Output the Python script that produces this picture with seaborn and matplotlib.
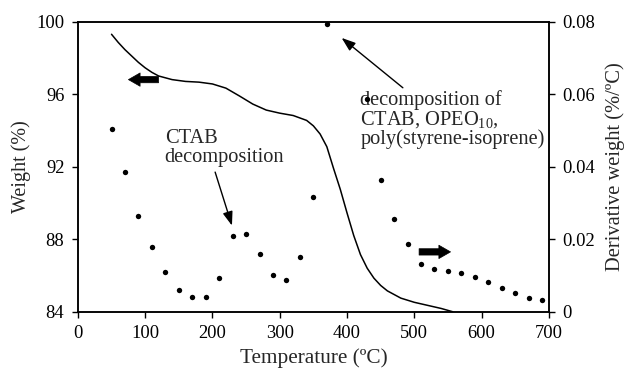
import matplotlib
matplotlib.use("Agg")
import matplotlib.pyplot as plt
import seaborn as sns
import pandas as pd

# Weight (TGA) curve
temp_w = [50, 60, 70, 80, 90, 100, 110, 120, 140, 160, 180, 200, 220, 240, 260, 280,
          300, 320, 340, 350, 360, 370, 380, 390, 400, 410, 420, 430, 440, 450, 460,
          480, 500, 520, 540, 557]
weight = [99.3, 98.85, 98.45, 98.1, 97.75, 97.45, 97.2, 97.0, 96.8, 96.7, 96.66, 96.56,
          96.33, 95.9, 95.45, 95.12, 94.95, 94.82, 94.55, 94.25, 93.8, 93.1, 91.9, 90.75,
          89.45, 88.2, 87.15, 86.4, 85.85, 85.45, 85.15, 84.75, 84.52, 84.35, 84.18, 84.0]

# Derivative weight points
temp_d = [50, 70, 90, 110, 130, 150, 170, 190, 210, 230, 250, 270, 290, 310, 330, 350,
          370, 430, 450, 470, 490, 510, 530, 550, 570, 590, 610, 630, 650, 670, 690]
deriv = [0.0505, 0.0386, 0.0264, 0.0178, 0.0109, 0.0060, 0.0042, 0.0042, 0.0094, 0.0209,
         0.0213, 0.0158, 0.0100, 0.0087, 0.0151, 0.0315, 0.0792, 0.0586, 0.0363, 0.0257,
         0.0187, 0.0132, 0.0117, 0.0113, 0.0106, 0.0097, 0.0081, 0.0065, 0.0051, 0.0039,
         0.0031]

x_ticks = [0, 100, 200, 300, 400, 500, 600, 700]
yl_ticks = [84, 88, 92, 96, 100]
yr_ticks = [0, 0.02, 0.04, 0.06, 0.08]
yr_labels = ["0", "0.02", "0.04", "0.06", "0.08"]

sns.set_theme(style="ticks")
plt.rcParams["font.family"] = ["Liberation Serif", "DejaVu Serif"]
plt.rcParams["mathtext.fontset"] = "custom"
plt.rcParams["mathtext.rm"] = "Liberation Serif"

fig = plt.figure(figsize=(6.28, 3.72), dpi=100)
ax = fig.add_axes([0.124, 0.162, 0.75, 0.78])
ax2 = ax.twinx()

dfw = pd.DataFrame({"T": temp_w, "W": weight})
dfd = pd.DataFrame({"T": temp_d, "D": deriv})

sns.lineplot(data=dfw, x="T", y="W", ax=ax, color="black", linewidth=1.1)
sns.scatterplot(data=dfd, x="T", y="D", ax=ax2, color="black", s=15, linewidth=0,
                clip_on=False)

ax.set_xlim(0, 700)
ax.set_ylim(84, 100)
ax2.set_ylim(0, 0.08)
ax.set_xticks(x_ticks)
ax.set_yticks(yl_ticks)
ax2.set_yticks(yr_ticks)
ax2.set_yticklabels(yr_labels)

for a in (ax, ax2):
    for s in a.spines.values():
        s.set_linewidth(1.1)
        s.set_color("black")
    a.tick_params(direction="out", length=4.3, width=1.0, labelsize=13.3, colors="black",
                  pad=5.5)
ax.tick_params(axis="x", pad=5.5)

ax.set_xlabel("Temperature (ºC)", fontsize=15.3, labelpad=4)
ax.set_ylabel("Weight (%)", fontsize=14.5, labelpad=4)
ax2.set_ylabel("Derivative weight (%/ºC)", fontsize=14.8, labelpad=7)

# thick direction arrows
ax.annotate("", xy=(71, 96.8), xytext=(124, 96.8),
            arrowprops=dict(arrowstyle="simple,head_length=0.7,head_width=0.8,tail_width=0.38",
                            color="black", lw=0.5))
ax2.annotate("", xy=(558, 0.0165), xytext=(503, 0.0165),
             arrowprops=dict(arrowstyle="simple,head_length=0.7,head_width=0.8,tail_width=0.38",
                             color="black", lw=0.5))

# annotation arrows
ax.annotate("", xy=(229, 88.75), xytext=(204, 91.7),
            arrowprops=dict(arrowstyle="-|>,head_length=0.7,head_width=0.25",
                            color="black", lw=1.0, shrinkA=0, shrinkB=0))
ax.annotate("", xy=(392, 99.1), xytext=(483, 96.35),
            arrowprops=dict(arrowstyle="-|>,head_length=0.7,head_width=0.25",
                            color="black", lw=1.0, shrinkA=0, shrinkB=0))

ax.text(129, 94.05, "CTAB\ndecomposition", fontsize=14.7, ha="left", va="top",
        linespacing=0.95)
ax.text(420, 96.2, "decomposition of\nCTAB, OPEO$_{10}$,\npoly(styrene-isoprene)",
        fontsize=14.7, ha="left", va="top", linespacing=0.93)

fig.savefig("out.png", dpi=100)
